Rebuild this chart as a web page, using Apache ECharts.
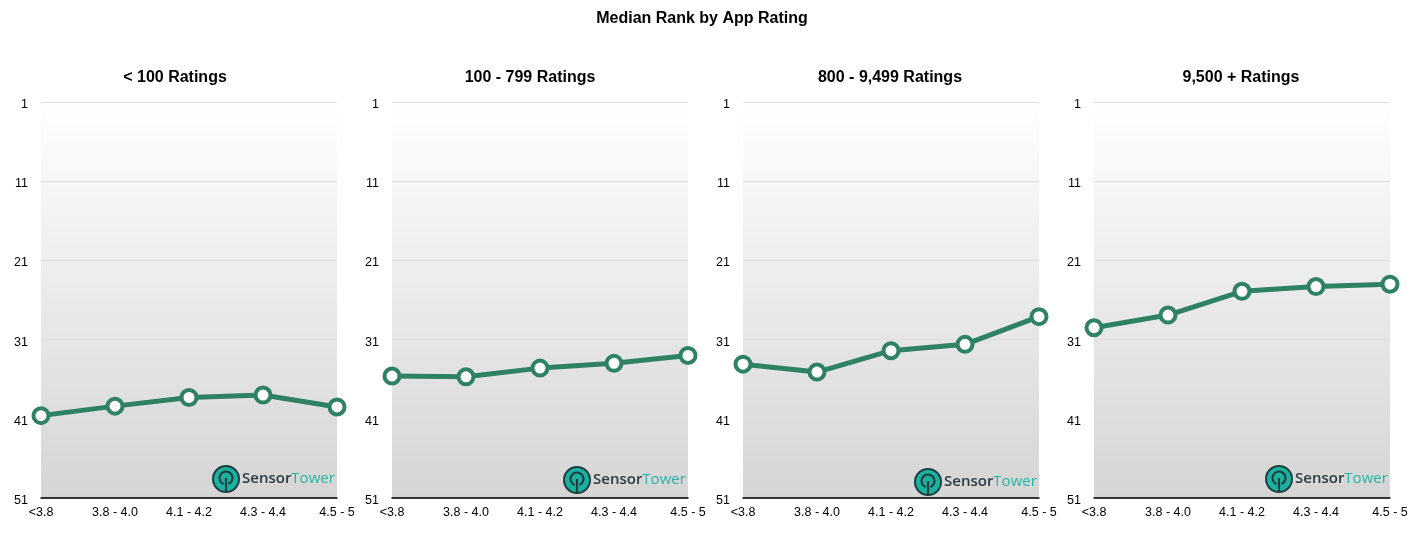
<!DOCTYPE html>
<html>
<head>
<meta charset="utf-8">
<script src="https://cdn.jsdelivr.net/npm/echarts@6/dist/echarts.min.js"></script>
<style>
html,body{margin:0;padding:0;background:#fff;}
#chart{width:1418px;height:539px;}
</style>
</head>
<body>
<div id="chart"></div>
<script>
const chartTitle = 'Median Rank by App Rating';
const panelTitles = ['< 100 Ratings', '100 - 799 Ratings', '800 - 9,499 Ratings', '9,500 + Ratings'];
const categories = ['<3.8', '3.8 - 4.0', '4.1 - 4.2', '4.3 - 4.4', '4.5 - 5'];
const yTicks = [1, 11, 21, 31, 41, 51];
const rankUnder100 = [40.6, 39.4, 38.3, 38.0, 39.5];
const rank100to799 = [35.6, 35.7, 34.6, 34.0, 33.0];
const rank800to9499 = [34.1, 35.1, 32.4, 31.6, 28.1];
const rank9500plus = [29.5, 27.9, 24.9, 24.3, 24.0];
const seriesData = [rankUnder100, rank100to799, rank800to9499, rank9500plus];

const FONT = '"Liberation Sans", Arial, Helvetica, sans-serif';
const gridLefts = [41, 392, 743, 1094];
const gridWidth = 296;
const gridTop = 102;
const gridHeight = 396;
const titleCenters = [175, 530, 890, 1241];
const lineColor = '#2e8163';

const grids = [], xAxes = [], yAxes = [], series = [], graphics = [];

graphics.push({
  type: 'text', x: 702, y: 19, silent: true,
  style: {text: chartTitle, textAlign: 'center', textVerticalAlign: 'middle',
    fontFamily: FONT, fontSize: 16, fontWeight: 'bold', fill: '#000'}
});

for (let i = 0; i < 4; i++) {
  grids.push({
    left: gridLefts[i], top: gridTop, width: gridWidth, height: gridHeight,
    show: true, borderWidth: 0,
    backgroundColor: {
      type: 'linear', x: 0, y: 0, x2: 0, y2: 1,
      colorStops: [{offset: 0, color: '#ffffff'}, {offset: 1, color: '#d5d5d5'}]
    }
  });
  graphics.push({
    type: 'text', x: titleCenters[i], y: 78, silent: true,
    style: {text: panelTitles[i], textAlign: 'center', textVerticalAlign: 'middle',
      fontFamily: FONT, fontSize: 16, fontWeight: 'bold', fill: '#000'}
  });
  xAxes.push({
    type: 'category', gridIndex: i, data: categories, boundaryGap: false,
    axisLine: {show: true, onZero: false, lineStyle: {color: '#000', width: 1.5}},
    axisTick: {show: false},
    splitLine: {show: false},
    axisLabel: {fontFamily: FONT, fontSize: 12.5, color: '#000', margin: 8, interval: 0}
  });
  yAxes.push({
    type: 'value', gridIndex: i, inverse: true, min: 1, max: 51,
    axisLine: {show: false},
    axisTick: {show: false, customValues: yTicks},
    axisLabel: {customValues: yTicks, fontFamily: FONT, fontSize: 12.5, color: '#000', margin: 13, verticalAlign: 'top', padding: [-4, 0, 0, 0]},
    splitLine: {show: true, lineStyle: {color: '#dedede', width: 1}}
  });
  series.push({
    type: 'line', xAxisIndex: i, yAxisIndex: i, data: seriesData[i],
    symbol: 'circle', symbolSize: 15,
    lineStyle: {color: lineColor, width: 5},
    itemStyle: {color: '#ffffff', borderColor: lineColor, borderWidth: 4},
    emphasis: {disabled: true},
    z: 3
  });
  // SensorTower watermark
  const offsets = [0, 1, 3, 0];
  const cx = gridLefts[i] + gridWidth - 111;
  const cy = 479 + offsets[i];
  graphics.push({
    type: 'group', left: cx - 14, top: cy - 14, silent: true, z: 2,
    children: [
      {type: 'circle', shape: {cx: 14, cy: 14, r: 13}, style: {fill: '#1bb1a0', stroke: '#1e3f3e', lineWidth: 2}},
      {type: 'arc', shape: {cx: 14, cy: 13, r: 6.5, startAngle: Math.PI * 0.62, endAngle: Math.PI * 2.38}, style: {fill: null, stroke: '#1e3f3e', lineWidth: 2.2}},
      {type: 'line', shape: {x1: 14, y1: 13, x2: 14, y2: 27}, style: {stroke: '#1e3f3e', lineWidth: 2.2}},
      {type: 'text', x: 30, y: 14, style: {
        text: '{a|Sensor}{b|Tower}', verticalAlign: 'middle',
        rich: {
          a: {fontFamily: '"Open Sans", sans-serif', fontSize: 15, fontWeight: 600, fill: '#2b3a3f'},
          b: {fontFamily: '"Open Sans", sans-serif', fontSize: 15, fontWeight: 400, fill: '#22b5a6'}
        }
      }}
    ]
  });
}

const chart = echarts.init(document.getElementById('chart'), null, {renderer: 'canvas'});
chart.setOption({
  animation: false,
  backgroundColor: '#ffffff',
  grid: grids,
  xAxis: xAxes,
  yAxis: yAxes,
  series: series,
  graphic: graphics
});
</script>
</body>
</html>
